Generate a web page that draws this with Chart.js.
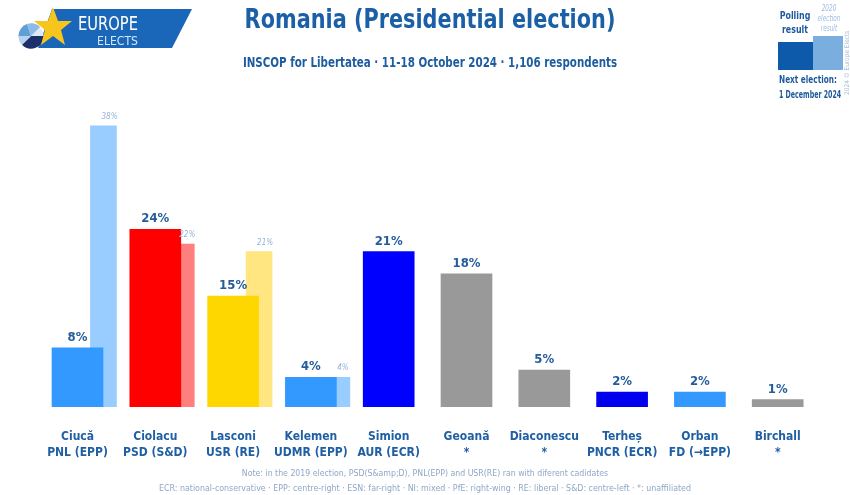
<!DOCTYPE html>
<html>
<head>
<meta charset="utf-8">
<script src="https://cdn.jsdelivr.net/npm/chart.js@4.4.1/dist/chart.umd.min.js"></script>
<style>
  html, body { margin:0; padding:0; background:#fff; width:850px; height:495px; overflow:hidden; }
  #wrap { position:relative; width:850px; height:495px; font-family:"Liberation Sans Narrow","DejaVu Sans Condensed","Liberation Sans",sans-serif; }
  #c { position:absolute; left:0; top:0; }
  .txt { position:absolute; white-space:nowrap; }
  .sx { transform:scaleX(0.8); transform-origin:center top; }
  .sxl { transform:scaleX(0.8); transform-origin:left top; }
</style>
</head>
<body>
<div id="wrap">
  <canvas id="c" width="850" height="495"></canvas>

  <!-- logo -->
  <svg width="200" height="60" style="position:absolute;left:0;top:0">
    <polygon points="52,9 192,9 172,48 38,48" fill="#1a66b8"/>
    <circle cx="31" cy="36" r="12.5" fill="#dfe9f5"/>
    <path d="M31,36 L18.5,36 A12.5,12.5 0 0 1 27,24.1 Z" fill="#5f9fd6"/>
    <path d="M31,36 L27,24.1 A12.5,12.5 0 0 1 40,27 Z" fill="#8cbbe6"/>
    <path d="M31,36 L43.5,36 A12.5,12.5 0 0 1 22,44.8 Z" fill="#1d2f6b"/>
    <path d="M31,36 L22,44.8 A12.5,12.5 0 0 1 18.5,36 Z" fill="#b7d2ee"/>
    <polygon points="53,7 58,21 72,21 61,30 65,45 53,36 41,45 45,30 34,21 48,21" fill="#f7c51c"/>
    <text x="78" y="30" font-family="DejaVu Sans Condensed, sans-serif" font-size="19" fill="#ffffff" textLength="60" lengthAdjust="spacingAndGlyphs">EUROPE</text>
    <text x="97" y="45" font-family="DejaVu Sans Condensed, sans-serif" font-size="13" fill="#d6e6f7" textLength="41" lengthAdjust="spacingAndGlyphs">ELECTS</text>
  </svg>

  <div class="txt sx" style="left:0;width:860px;text-align:center;top:4px;font-size:26px;font-weight:bold;color:#1b5fa6;transform:scaleX(0.89);">Romania (Presidential election)</div>
  <div class="txt sx" style="left:0;width:860px;text-align:center;top:54px;font-size:14.5px;font-weight:bold;color:#1d5c9e;transform:scaleX(0.79);">INSCOP for Libertatea · 11-18 October 2024 · 1,106 respondents</div>

  <!-- top-right legend -->
  <div class="txt sx" style="left:774px;width:42px;top:9px;font-size:11px;font-weight:bold;color:#1f5a9c;line-height:14px;text-align:center;">Polling<br>result</div>
  <div class="txt sx" style="left:813px;top:4px;font-size:8px;font-style:italic;color:#9dbde2;line-height:10px;text-align:center;width:32px;">2020<br>election<br>result</div>
  <div style="position:absolute;left:778px;top:42px;width:35px;height:28px;background:#0e5aaa;"></div>
  <div style="position:absolute;left:813px;top:36px;width:30px;height:34px;background:#7aaedf;"></div>
  <div class="txt" style="font-size:6.5px;color:#a9bcd3;transform:rotate(-90deg);transform-origin:left top;top:95px;left:843px;">2024 © Europe Elects</div>
  <div class="txt sxl" style="left:779px;top:73px;font-size:11px;font-weight:bold;color:#1f5a9c;transform:scaleX(0.74);">Next election:</div>
  <div class="txt sxl" style="left:779px;top:89px;font-size:10px;font-weight:bold;color:#1f5a9c;transform:scaleX(0.7);">1 December 2024</div>

  <!-- footnotes -->
  <div class="txt" style="left:0;width:850px;text-align:center;top:468px;font-size:8.7px;color:#8ea8c6;">Note: in the 2019 election, PSD(S&amp;amp;D), PNL(EPP) and USR(RE) ran with diferent cadidates</div>
  <div class="txt" style="left:0;width:850px;text-align:center;top:483px;font-size:8.8px;color:#8ea8c6;">ECR: national-conservative · EPP: centre-right · ESN: far-right · NI: mixed · PfE: right-wing · RE: liberal · S&amp;D: centre-left · *: unaffiliated</div>
</div>

<script>
const candidates = ['Ciucă','Ciolacu','Lasconi','Kelemen','Simion','Geoană','Diaconescu','Terheș','Orban','Birchall'];
const parties    = ['PNL (EPP)','PSD (S&D)','USR (RE)','UDMR (EPP)','AUR (ECR)','*','*','PNCR (ECR)','FD (→EPP)','*'];
const polling    = [8, 24, 15, 4, 21, 18, 5, 2, 2, 1];
const result2020 = [38, 22, 21, 4, null, null, null, null, null, null];
const pollColors = ['#3399ff','#ff0000','#ffd700','#3399ff','#0000ff','#999999','#999999','#0000ee','#3399ff','#999999'];
const prevColors = ['#99ccff','#ff7f7f','#ffe680','#99ccff','#7f7fff','#cccccc','#cccccc','#7f7ff6','#99ccff','#cccccc'];

const FONT = '"Liberation Sans Narrow","DejaVu Sans Condensed","Liberation Sans",sans-serif';
const prevShift = 0.334;

const prevPoints = [];
const prevPointColors = [];
result2020.forEach((v, i) => {
  if (v !== null) { prevPoints.push({ x: i, y: v }); prevPointColors.push(prevColors[i]); }
});

const labelPlugin = {
  id: 'valueLabels',
  afterDatasetsDraw(chart) {
    const ctx = chart.ctx;
    ctx.save();
    const m0 = chart.getDatasetMeta(0);
    ctx.textAlign = 'center';
    ctx.textBaseline = 'alphabetic';
    ctx.font = 'bold 13px ' + FONT;
    ctx.fillStyle = '#245c9c';
    m0.data.forEach((el, i) => {
      ctx.fillText(polling[i] + '%', el.x, el.y - 7);
    });
    const m1 = chart.getDatasetMeta(1);
    ctx.font = 'italic 8px ' + FONT;
    ctx.fillStyle = '#94b3d8';
    m1.data.forEach((el, i) => {
      ctx.fillText(prevPoints[i].y + '%', el.x + 6, el.y - 7);
    });
    ctx.restore();
  }
};

new Chart(document.getElementById('c'), {
  type: 'bar',
  data: {
    labels: candidates,
    datasets: [
      {
        label: 'Polling result',
        data: polling,
        backgroundColor: pollColors,
        barThickness: 51,
        grouped: false,
        xAxisID: 'x',
        yAxisID: 'y',
        order: 0
      },
      {
        label: '2020 election result',
        data: prevPoints,
        backgroundColor: prevPointColors,
        barThickness: 26,
        grouped: false,
        xAxisID: 'x2',
        yAxisID: 'y',
        order: 1
      }
    ]
  },
  options: {
    responsive: false,
    animation: false,
    layout: { padding: { top: 111, left: 38.6, right: 33.4, bottom: 18 } },
    plugins: { legend: { display: false }, tooltip: { enabled: false }, title: { display: false } },
    scales: {
      x: {
        type: 'category',
        offset: true,
        grid: { display: false, drawTicks: false },
        border: { display: false },
        ticks: {
          padding: 22,
          color: '#1f5fa3',
          font: { family: FONT, size: 12, weight: 'bold', lineHeight: 1.33 },
          maxRotation: 0,
          autoSkip: false,
          callback: (v, i) => [candidates[i], parties[i]]
        },
        afterFit(scale) { scale.height = 70; }
      },
      x2: {
        type: 'linear',
        display: false,
        offset: false,
        grid: { offset: false },
        min: -0.5 - prevShift,
        max: 9.5 - prevShift
      },
      y: {
        display: false,
        min: 0,
        max: 40
      }
    }
  },
  plugins: [labelPlugin]
});
</script>
</body>
</html>
